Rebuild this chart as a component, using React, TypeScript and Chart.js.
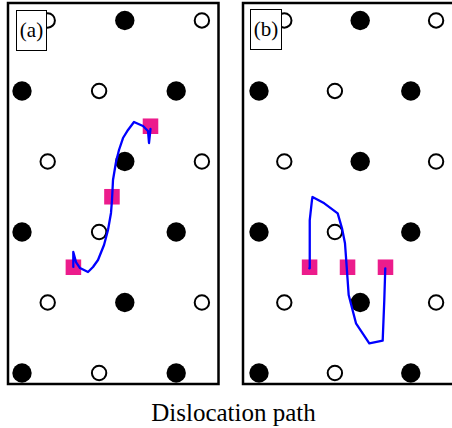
import React, { useEffect, useRef } from 'react';
import { Chart, registerables } from 'chart.js';

Chart.register(...registerables);

// Lattice sites (column index, row index from top)
const filledX = [4, 0, 6, 4, 0, 6, 4, 0, 6];
const filledY = [0, 1, 1, 2, 3, 3, 4, 5, 5];
const openX = [1, 7, 3, 1, 7, 3, 1, 7, 3];
const openY = [0, 0, 1, 2, 2, 3, 4, 4, 5];

// Panel (a)
const squaresAX = [2, 3.5, 5];
const squaresAY = [3.5, 2.5, 1.5];
const pathAX = [2.0, 1.996, 2.101, 2.257, 2.568, 2.763, 2.957, 3.191, 3.346, 3.463, 3.502, 3.541, 3.658, 3.774, 3.93, 4.125, 4.358, 4.708, 4.903, 4.942, 5.0];
const pathAY = [3.496, 3.284, 3.426, 3.511, 3.567, 3.496, 3.397, 3.184, 2.972, 2.73, 2.546, 2.262, 2.007, 1.837, 1.667, 1.553, 1.44, 1.496, 1.567, 1.738, 1.539];

// Panel (b)
const squaresBX = [2, 3.5, 5];
const squaresBY = [3.5, 3.5, 3.5];
const pathBX = [1.988, 1.996, 2.016, 2.095, 2.115, 2.581, 3.111, 3.281, 3.399, 3.466, 3.545, 3.834, 4.36, 4.889, 4.953, 4.992];
const pathBY = [3.515, 3.255, 2.83, 2.546, 2.504, 2.593, 2.735, 2.948, 3.16, 3.492, 3.894, 4.295, 4.579, 4.542, 3.965, 3.515];

const panelLabels = ['(a)', '(b)'];
const titleText = 'Dislocation path';

const zip = (xs: number[], ys: number[]) => xs.map((x, i) => ({ x, y: ys[i] }));

const frame = {
  id: 'frame',
  afterDatasetsDraw(chart: any) {
    const { ctx, chartArea } = chart;
    ctx.save();
    ctx.strokeStyle = '#000';
    ctx.lineWidth = 2.5;
    ctx.strokeRect(chartArea.left, chartArea.top, chartArea.right - chartArea.left, chartArea.bottom - chartArea.top);
    ctx.restore();
  },
};

type PanelProps = {
  left: number;
  top: number;
  width: number;
  height: number;
  padding: any;
  xMin: number;
  xMax: number;
  sqX: number[];
  sqY: number[];
  pX: number[];
  pY: number[];
};

function Panel(p: PanelProps) {
  const ref = useRef<HTMLCanvasElement>(null);
  useEffect(() => {
    if (!ref.current) return;
    const chart = new Chart(ref.current, {
      type: 'scatter',
      data: {
        datasets: [
          {
            data: zip(p.pX, p.pY),
            showLine: true,
            borderColor: '#0000ff',
            borderWidth: 2.3,
            borderJoinStyle: 'round',
            borderCapStyle: 'round',
            pointRadius: 0,
            tension: 0,
            clip: false,
          } as any,
          {
            data: zip(p.sqX, p.sqY),
            pointStyle: 'rect',
            pointRadius: 11,
            pointBackgroundColor: '#ec1c8c',
            backgroundColor: '#ec1c8c',
            pointBorderWidth: 0,
            borderWidth: 0,
            clip: false,
          } as any,
          {
            data: zip(openX, openY),
            pointStyle: 'circle',
            pointRadius: 7.2,
            pointBackgroundColor: '#ffffff',
            backgroundColor: '#ffffff',
            pointBorderColor: '#000000',
            borderColor: '#000000',
            pointBorderWidth: 2,
            borderWidth: 2,
            clip: false,
          } as any,
          {
            data: zip(filledX, filledY),
            pointStyle: 'circle',
            pointRadius: 9.7,
            pointBackgroundColor: '#000000',
            backgroundColor: '#000000',
            pointBorderWidth: 0,
            borderWidth: 0,
            clip: false,
          } as any,
        ],
      },
      options: {
        responsive: false,
        maintainAspectRatio: false,
        animation: false,
        events: [],
        layout: { padding: p.padding, autoPadding: false },
        plugins: {
          legend: { display: false },
          tooltip: { enabled: false },
          title: { display: false },
        },
        scales: {
          x: { type: 'linear', min: p.xMin, max: p.xMax, display: false },
          y: { type: 'linear', min: -0.248, max: 5.156, reverse: true, display: false },
        },
      } as any,
      plugins: [frame],
    });
    return () => chart.destroy();
  }, []);
  return (
    <canvas
      ref={ref}
      width={p.width}
      height={p.height}
      style={{ position: 'absolute', left: p.left, top: p.top, width: p.width, height: p.height, display: 'block' }}
    />
  );
}

const labelStyle = (left: number, top: number, w: number, h: number): React.CSSProperties => ({
  position: 'absolute',
  left,
  top,
  width: w,
  height: h,
  boxSizing: 'border-box',
  border: '1px solid #000',
  background: '#fff',
  display: 'flex',
  alignItems: 'center',
  justifyContent: 'center',
  fontFamily: '"Liberation Serif", "DejaVu Serif", serif',
  fontSize: 21,
  color: '#000',
  lineHeight: '21px',
});

export default function App() {
  return (
    <div style={{ position: 'absolute', left: 0, top: 0, width: 452, height: 428, overflow: 'hidden', background: '#fff' }}>
      <Panel left={4} top={-1} width={219} height={389} padding={{ left: 4, right: 4.5, top: 4, bottom: 4 }}
        xMin={-0.545} xMax={7.646} sqX={squaresAX} sqY={squaresAY} pX={pathAX} pY={pathAY} />
      <Panel left={239} top={-1} width={221} height={389} padding={{ left: 4, right: 4, top: 4, bottom: 4 }}
        xMin={-0.632} xMax={7.787} sqX={squaresBX} sqY={squaresBY} pX={pathBX} pY={pathBY} />
      <div style={labelStyle(16, 10, 31, 41)}>{panelLabels[0]}</div>
      <div style={labelStyle(250, 9, 32, 41)}>{panelLabels[1]}</div>
      <div
        style={{
          position: 'absolute',
          left: 0,
          top: 400,
          width: 467,
          textAlign: 'center',
          fontFamily: '"Liberation Serif", "DejaVu Serif", serif',
          fontSize: 25,
          lineHeight: '25px',
          color: '#000',
          whiteSpace: 'nowrap',
        }}
      >
        {titleText}
      </div>
    </div>
  );
}
